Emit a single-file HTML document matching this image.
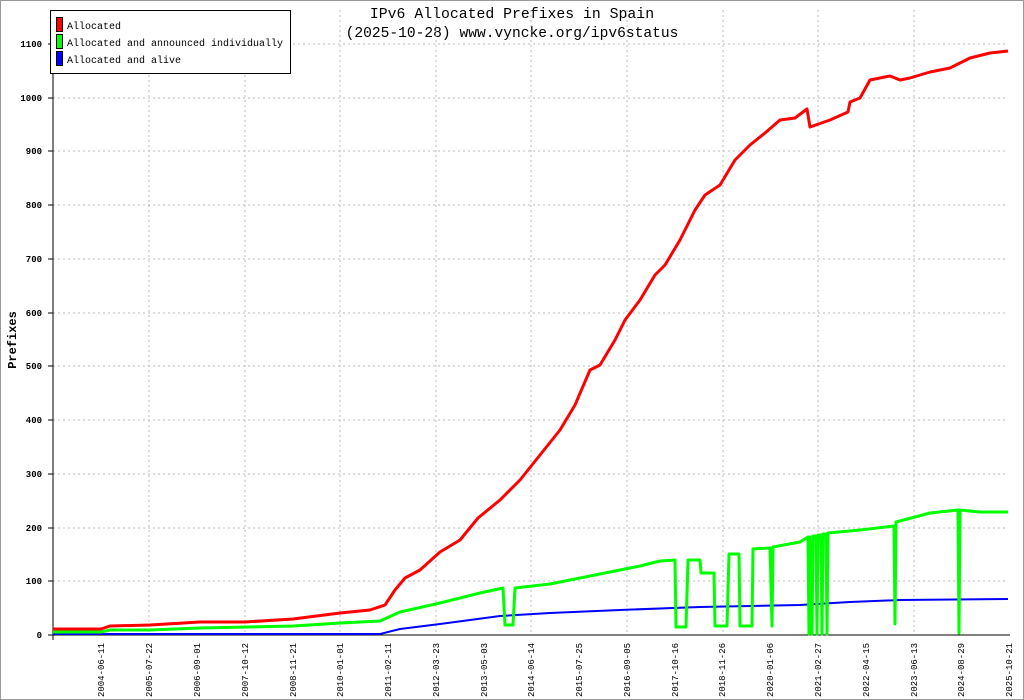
<!DOCTYPE html>
<html><head><style>body{margin:0;background:#fff}svg{display:block}</style></head><body>
<svg width="1024" height="700" xmlns="http://www.w3.org/2000/svg" font-family="Liberation Mono, DejaVu Sans Mono, monospace">
<rect x="0.5" y="0.5" width="1023" height="699" fill="#fff" stroke="#999"/>
<text x="512" y="18" text-anchor="middle" font-size="14.8">IPv6 Allocated Prefixes in Spain</text>
<text x="512" y="37" text-anchor="middle" font-size="14.6">(2025-10-28) www.vyncke.org/ipv6status</text>
<text transform="translate(16,340) rotate(-90)" text-anchor="middle" font-size="12" font-weight="bold">Prefixes</text>
<g stroke="#bbb" stroke-dasharray="2,3">
<line x1="53" x2="1008" y1="581" y2="581"/><line x1="53" x2="1008" y1="528" y2="528"/><line x1="53" x2="1008" y1="474" y2="474"/><line x1="53" x2="1008" y1="420" y2="420"/><line x1="53" x2="1008" y1="366" y2="366"/><line x1="53" x2="1008" y1="313" y2="313"/><line x1="53" x2="1008" y1="259" y2="259"/><line x1="53" x2="1008" y1="205" y2="205"/><line x1="53" x2="1008" y1="151" y2="151"/><line x1="53" x2="1008" y1="98" y2="98"/><line x1="53" x2="1008" y1="44" y2="44"/>
<line x1="149" x2="149" y1="10" y2="635"/><line x1="245" x2="245" y1="10" y2="635"/><line x1="340" x2="340" y1="10" y2="635"/><line x1="436" x2="436" y1="10" y2="635"/><line x1="531" x2="531" y1="10" y2="635"/><line x1="627" x2="627" y1="10" y2="635"/><line x1="723" x2="723" y1="10" y2="635"/><line x1="818" x2="818" y1="10" y2="635"/><line x1="914" x2="914" y1="10" y2="635"/>
</g>
<g stroke="#000"><line x1="53" y1="10" x2="53" y2="640"/><line x1="48" y1="635" x2="1010" y2="635"/></g>
<g font-size="9" font-weight="bold" text-anchor="end">
<text x="42" y="638">0</text><text x="42" y="584">100</text><text x="42" y="531">200</text><text x="42" y="477">300</text><text x="42" y="423">400</text><text x="42" y="369">500</text><text x="42" y="316">600</text><text x="42" y="262">700</text><text x="42" y="208">800</text><text x="42" y="154">900</text><text x="42" y="101">1000</text><text x="42" y="47">1100</text>
</g>
<g stroke="#000"><line x1="48" x2="53" y1="581" y2="581"/><line x1="48" x2="53" y1="528" y2="528"/><line x1="48" x2="53" y1="474" y2="474"/><line x1="48" x2="53" y1="420" y2="420"/><line x1="48" x2="53" y1="366" y2="366"/><line x1="48" x2="53" y1="313" y2="313"/><line x1="48" x2="53" y1="259" y2="259"/><line x1="48" x2="53" y1="205" y2="205"/><line x1="48" x2="53" y1="151" y2="151"/><line x1="48" x2="53" y1="98" y2="98"/><line x1="48" x2="53" y1="44" y2="44"/></g>
<g font-size="9" text-anchor="end">
<text transform="translate(104,643) rotate(-90)">2004-06-11</text>
<text transform="translate(152,643) rotate(-90)">2005-07-22</text>
<text transform="translate(200,643) rotate(-90)">2006-09-01</text>
<text transform="translate(248,643) rotate(-90)">2007-10-12</text>
<text transform="translate(296,643) rotate(-90)">2008-11-21</text>
<text transform="translate(343,643) rotate(-90)">2010-01-01</text>
<text transform="translate(391,643) rotate(-90)">2011-02-11</text>
<text transform="translate(439,643) rotate(-90)">2012-03-23</text>
<text transform="translate(487,643) rotate(-90)">2013-05-03</text>
<text transform="translate(534,643) rotate(-90)">2014-06-14</text>
<text transform="translate(582,643) rotate(-90)">2015-07-25</text>
<text transform="translate(630,643) rotate(-90)">2016-09-05</text>
<text transform="translate(678,643) rotate(-90)">2017-10-16</text>
<text transform="translate(725,643) rotate(-90)">2018-11-26</text>
<text transform="translate(773,643) rotate(-90)">2020-01-06</text>
<text transform="translate(821,643) rotate(-90)">2021-02-27</text>
<text transform="translate(869,643) rotate(-90)">2022-04-15</text>
<text transform="translate(917,643) rotate(-90)">2023-06-13</text>
<text transform="translate(964,643) rotate(-90)">2024-08-29</text>
<text transform="translate(1012,643) rotate(-90)">2025-10-21</text>
</g>
<g fill="none" stroke-width="3" stroke-linejoin="round">
<polyline stroke="#00f" stroke-width="2" points="53,634 380,634 400,629 440,624 470,620 500,616 550,613 620,610 700,607 800,605 850,602 900,600 1008,599"/>
<polyline stroke="#0f0" points="53,632 101,632 110,630 150,630 200,628 293,626 340,623 380,621 400,612 440,603 480,593 503,588 505,625 513,625 515,588 550,584 580,578 610,572 640,566 660,561 675,560 676,627 686,627 688,560 700,560 701,573 714,573 715,626 727,626 729,554 739,554 740,626 752,626 753,549 770,548 772,626 773,547 800,542 808,537 809,634 810,537 812,634 813,536 816,536 817,634 818,535 821,535 822,634 823,534 826,534 827,634 828,533 860,530 894,526 895,624 896,522 930,513 958,510 959,633 960,510 980,512 1008,512"/>
<polyline stroke="#f00" points="53,629 101,629 110,626 150,625 200,622 245,622 293,619 340,613 370,610 385,605 395,590 405,578 420,570 440,552 460,540 478,518 500,500 520,480 540,455 560,430 575,405 590,370 600,365 615,340 625,320 640,300 655,275 665,265 680,240 695,210 705,195 720,185 735,160 750,145 765,133 780,120 795,118 807,109 810,127 830,120 848,112 850,102 860,98 870,80 890,76 900,80 910,78 930,72 950,68 970,58 990,53 1008,51"/>
</g>
<rect x="50.5" y="10.5" width="240" height="63" fill="#fff" stroke="#000"/>
<rect x="56.5" y="17.5" width="6" height="14" fill="#f00" stroke="#000"/>
<rect x="56.5" y="34.5" width="6" height="14" fill="#0f0" stroke="#000"/>
<rect x="56.5" y="51.5" width="6" height="14" fill="#00f" stroke="#000"/>
<g font-size="10"><text x="67" y="29">Allocated</text><text x="67" y="46">Allocated and announced individually</text><text x="67" y="63">Allocated and alive</text></g>
</svg>
</body></html>
